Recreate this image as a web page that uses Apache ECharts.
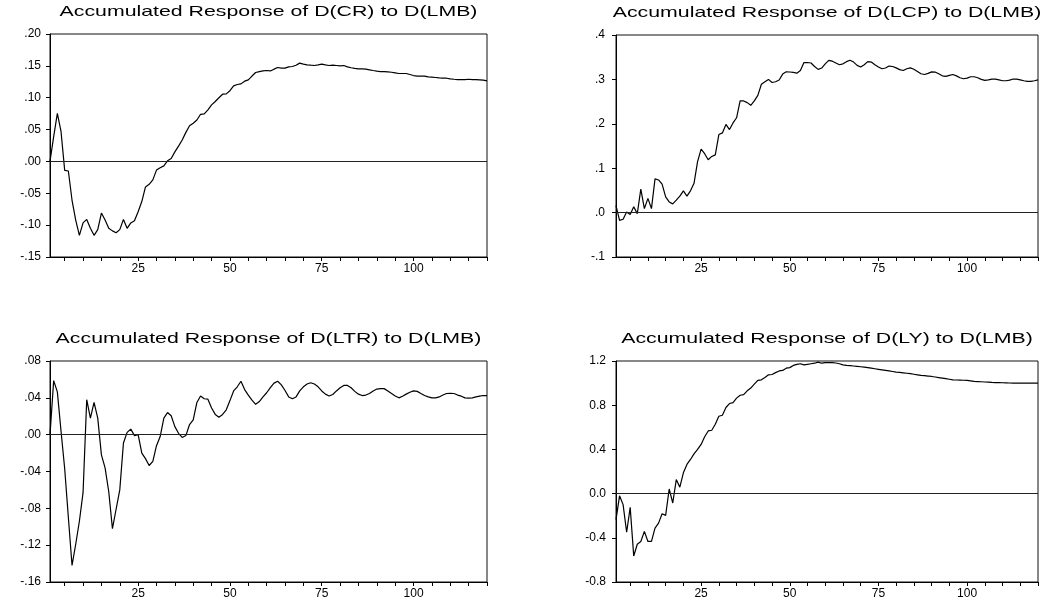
<!DOCTYPE html>
<html>
<head>
<meta charset="utf-8">
<script src="https://cdn.jsdelivr.net/npm/echarts@6/dist/echarts.min.js"></script>
<style>
html,body{margin:0;padding:0;background:#fff;}
#chart{width:1056px;height:608px;}
</style>
</head>
<body>
<div id="chart"></div>
<script>
// ---------------- data ----------------
const periods = Array.from({length: 120}, (_, i) => i + 1);
const xLabelTicks = [25, 50, 75, 100];

const titles = [
  'Accumulated Response of D(CR) to D(LMB)',
  'Accumulated Response of D(LCP) to D(LMB)',
  'Accumulated Response of D(LTR) to D(LMB)',
  'Accumulated Response of D(LY) to D(LMB)'
];

const crResponse = [
  0, 0.039, 0.0755, 0.047, -0.014, -0.015, -0.061, -0.092, -0.116, -0.0965,
  -0.091, -0.105, -0.116, -0.107, -0.081, -0.092, -0.105, -0.109, -0.112, -0.107,
  -0.091, -0.105, -0.0965, -0.093, -0.079, -0.063, -0.040, -0.036, -0.029, -0.0136,
  -0.010, -0.007, 0.001, 0.0047, 0.015, 0.024, 0.0336, 0.0456, 0.056, 0.060,
  0.065, 0.074, 0.0745, 0.081, 0.0887, 0.094, 0.100, 0.1055, 0.106, 0.111,
  0.1186, 0.1207, 0.1217, 0.126, 0.128, 0.134, 0.1396, 0.141, 0.142, 0.1427,
  0.142, 0.1448, 0.1474, 0.1464, 0.1464, 0.1485, 0.149, 0.151, 0.1543, 0.1527,
  0.1516, 0.151, 0.1506, 0.1516, 0.1527, 0.1516, 0.1506, 0.151, 0.1506, 0.150,
  0.1506, 0.1485, 0.147, 0.146, 0.1453, 0.1453, 0.1448, 0.1438, 0.1427, 0.1417,
  0.141, 0.141, 0.1406, 0.140, 0.139, 0.138, 0.138, 0.138, 0.1364, 0.1348,
  0.1338, 0.1338, 0.1338, 0.1327, 0.1322, 0.1317, 0.131, 0.1306, 0.1306, 0.1296,
  0.129, 0.1285, 0.1285, 0.1285, 0.129, 0.1285, 0.1285, 0.128, 0.1275, 0.1264
];

const lcpResponse = [
  0.0155, -0.0174, -0.015, 0.0015, -0.0045, 0.013, -0.0023, 0.053, 0.009, 0.032,
  0.009, 0.0758, 0.0735, 0.064, 0.0356, 0.024, 0.0197, 0.028, 0.037, 0.049,
  0.037, 0.049, 0.066, 0.115, 0.143, 0.1326, 0.119, 0.1265, 0.130, 0.1758,
  0.1795, 0.1985, 0.187, 0.202, 0.2136, 0.2515, 0.2515, 0.2477, 0.2417, 0.2515,
  0.264, 0.289, 0.2947, 0.300, 0.293, 0.2947, 0.2985, 0.312, 0.317, 0.3167,
  0.316, 0.314, 0.320, 0.338, 0.338, 0.337, 0.329, 0.3226, 0.3256, 0.335,
  0.343, 0.341, 0.337, 0.333, 0.335, 0.340, 0.343, 0.339, 0.3316, 0.328,
  0.333, 0.340, 0.339, 0.333, 0.328, 0.324, 0.3256, 0.330, 0.329, 0.326,
  0.322, 0.320, 0.324, 0.326, 0.323, 0.318, 0.3128, 0.311, 0.3135, 0.317,
  0.3165, 0.3128, 0.308, 0.3068, 0.309, 0.311, 0.308, 0.3038, 0.3015, 0.303,
  0.306, 0.306, 0.3038, 0.300, 0.2977, 0.299, 0.3008, 0.3008, 0.299, 0.297,
  0.297, 0.2985, 0.3008, 0.3008, 0.299, 0.297, 0.2955, 0.2955, 0.297, 0.299
];

const ltrResponse = [
  0, 0.0587, 0.0465, 0.004, -0.037, -0.09, -0.142, -0.119, -0.094, -0.063,
  0.038, 0.018, 0.035, 0.018, -0.022, -0.036, -0.062, -0.102, -0.081, -0.060,
  -0.009, 0.0025, 0.006, -0.001, 0.000, -0.020, -0.026, -0.0335, -0.029, -0.012,
  -0.002, 0.018, 0.024, 0.0205, 0.0087, 0.0015, -0.003, -0.001, 0.011, 0.016,
  0.035, 0.042, 0.039, 0.0385, 0.029, 0.022, 0.019, 0.022, 0.027, 0.037,
  0.0475, 0.052, 0.058, 0.049, 0.043, 0.0375, 0.033, 0.036, 0.041, 0.0455,
  0.051, 0.056, 0.058, 0.054, 0.048, 0.041, 0.039, 0.041, 0.0475, 0.052,
  0.055, 0.0564, 0.055, 0.052, 0.0475, 0.044, 0.042, 0.0436, 0.0475, 0.051,
  0.0535, 0.0535, 0.051, 0.047, 0.044, 0.0425, 0.043, 0.0447, 0.0475, 0.0495,
  0.050, 0.050, 0.0475, 0.0447, 0.042, 0.040, 0.0418, 0.044, 0.046, 0.0476,
  0.047, 0.0447, 0.0425, 0.041, 0.040, 0.040, 0.041, 0.043, 0.0447, 0.045,
  0.0447, 0.043, 0.0418, 0.040, 0.0396, 0.040, 0.041, 0.0418, 0.0425, 0.0425
];

const lyResponse = [
  -0.235, -0.02, -0.10, -0.35, -0.125, -0.565, -0.458, -0.433, -0.342, -0.433,
  -0.433, -0.312, -0.267, -0.182, -0.197, 0.042, -0.085, 0.127, 0.058, 0.188,
  0.264, 0.309, 0.36, 0.40, 0.445, 0.515, 0.567, 0.573, 0.627, 0.70,
  0.709, 0.779, 0.815, 0.824, 0.864, 0.89, 0.895, 0.93, 0.955, 0.99,
  1.025, 1.03, 1.05, 1.075, 1.078, 1.095, 1.11, 1.115, 1.135, 1.14,
  1.16, 1.17, 1.175, 1.165, 1.17, 1.175, 1.18, 1.19, 1.18, 1.185,
  1.185, 1.185, 1.182, 1.175, 1.165, 1.16, 1.158, 1.155, 1.152, 1.148,
  1.144, 1.14, 1.135, 1.13, 1.125, 1.12, 1.115, 1.11, 1.105, 1.10,
  1.097, 1.093, 1.089, 1.085, 1.08, 1.075, 1.07, 1.067, 1.064, 1.06,
  1.055, 1.05, 1.045, 1.04, 1.035, 1.03, 1.028, 1.027, 1.026, 1.024,
  1.02, 1.016, 1.014, 1.012, 1.01, 1.008, 1.006, 1.005, 1.004, 1.003,
  1.002, 1.001, 1.0, 1.0, 0.999, 0.999, 0.999, 0.999, 0.999, 0.999
];

// y-axis scales (tick values) per panel
const yScales = [
  {min: -0.15, max: 0.20, interval: 0.05, decimals: 2, stripZero: true},
  {min: -0.1,  max: 0.4,  interval: 0.1,  decimals: 1, stripZero: true},
  {min: -0.16, max: 0.08, interval: 0.04, decimals: 2, stripZero: true},
  {min: -0.8,  max: 1.2,  interval: 0.4,  decimals: 1, stripZero: false}
];

const seriesData = [crResponse, lcpResponse, ltrResponse, lyResponse];

// ---------------- layout ----------------
const grids = [
  {left: 50,  top: 34,  width: 437, height: 223},
  {left: 616, top: 35,  width: 422, height: 222},
  {left: 50,  top: 361, width: 437, height: 221},
  {left: 616, top: 361, width: 422, height: 221}
];
const labelMargins = [9, 11, 9, 10];
const FONT = '"Liberation Sans", Arial, Helvetica, sans-serif';

function fmt(scale) {
  return function (v) {
    if (Math.abs(v) < 1e-9) v = 0;
    let s = v.toFixed(scale.decimals);
    if (scale.stripZero) s = s.replace(/^(-?)0\./, '$1.');
    return s;
  };
}

const option = {
  animation: false,
  backgroundColor: '#ffffff',
  grid: grids.map(g => Object.assign({show: true, borderColor: '#111', borderWidth: 1}, g)),
  xAxis: grids.map((g, i) => ({
    type: 'category',
    gridIndex: i,
    data: periods,
    boundaryGap: false,
    axisLine: {show: true, onZero: false, lineStyle: {color: '#000', width: 1}},
    axisTick: {
      show: true,
      length: 4,
      inside: false,
      interval: (idx) => (idx + 1) % 5 === 0,
      lineStyle: {color: '#000', width: 1}
    },
    axisLabel: {
      show: true,
      interval: (idx, val) => xLabelTicks.indexOf(Number(val)) >= 0,
      color: '#000',
      fontFamily: FONT,
      fontSize: 12,
      margin: 6
    },
    splitLine: {show: false}
  })),
  yAxis: grids.map((g, i) => ({
    type: 'value',
    gridIndex: i,
    min: yScales[i].min,
    max: yScales[i].max,
    interval: yScales[i].interval,
    axisLine: {show: true, lineStyle: {color: '#000', width: 1}},
    axisTick: {show: true, length: 4, lineStyle: {color: '#000', width: 1}},
    axisLabel: {
      color: '#000',
      fontFamily: FONT,
      fontSize: 12,
      margin: labelMargins[i],
      formatter: fmt(yScales[i])
    },
    splitLine: {show: false}
  })),
  series: seriesData.map((d, i) => ({
    type: 'line',
    xAxisIndex: i,
    yAxisIndex: i,
    data: d,
    showSymbol: false,
    symbol: 'none',
    lineStyle: {color: '#000', width: 1.2},
    silent: true,
    markLine: {
      silent: true,
      symbol: ['none', 'none'],
      label: {show: false},
      lineStyle: {color: '#222', width: 1, type: 'solid'},
      data: [{yAxis: 0}]
    }
  })),
  graphic: titles.map((t, i) => ({
    type: 'text',
    x: grids[i].left + grids[i].width / 2,
    y: grids[i].top - 22,
    scaleX: 1.42,
    scaleY: 1,
    silent: true,
    style: {
      text: t,
      fill: '#000',
      font: '15px ' + FONT,
      textAlign: 'center',
      textVerticalAlign: 'middle',
      align: 'center',
      verticalAlign: 'middle'
    }
  }))
};

const chart = echarts.init(document.getElementById('chart'), null, {renderer: 'canvas'});
chart.setOption(option);
</script>
</body>
</html>
